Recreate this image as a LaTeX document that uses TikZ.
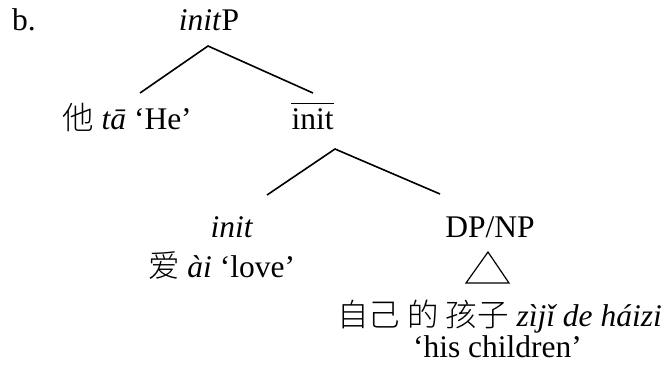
\documentclass[tikz,border=0pt]{standalone}
\usepackage{fontspec}
\setmainfont{Liberation Serif}
\newfontfamily\cjk{Noto Sans CJK SC}[UprightFont=* Light]
\begin{document}
\begin{tikzpicture}[x=1pt,y=-1pt,
  lbl/.style={font=\fontsize{31.5}{36}\selectfont, inner sep=0pt, anchor=base},
  branch/.style={line width=1.6pt}]
\useasboundingbox (0,0) rectangle (664,368);
% labels
\node[lbl, anchor=base west] (b) at (12,30) {b.};
\node[lbl] (initP) at (209,30) {\textit{init}P};
\node[lbl] (he) at (127,129) {{\cjk 他} \textit{tā} ‘He’};
\node[lbl] (ibar) at (312.5,129) {init};
\draw[line width=1.5pt] ([yshift=4.5pt]ibar.north west) -- ([yshift=4.5pt]ibar.north east);
\node[lbl] (init) at (232,237) {\textit{init}};
\node[lbl] (love) at (221.5,277) {{\cjk 爱} \textit{ài} ‘love’};
\node[lbl] (dpnp) at (490,237) {DP/NP};
\node[lbl, anchor=base west] (ziji) at (337,326) {{\cjk 自己 的 孩子} \textit{zìjǐ de háizi}};
\node[lbl] (child) at (497.5,357) {‘his children’};
% branch points
\coordinate (topA) at (208,46);
\coordinate (heE) at (140,93);
\coordinate (ibarE) at (313,93);
\coordinate (midA) at (335,149);
\coordinate (initE) at (267,195);
\coordinate (dpE) at (440,194);
\coordinate (triA) at (488,252);
\coordinate (triL) at (466,283);
\coordinate (triR) at (509,283);
\draw[branch] (heE) -- (topA) -- (ibarE);
\draw[branch] (initE) -- (midA) -- (dpE);
\draw[line width=1.2pt, line join=miter] (triA) -- (triL) -- (triR) -- cycle;
\end{tikzpicture}
\end{document}
